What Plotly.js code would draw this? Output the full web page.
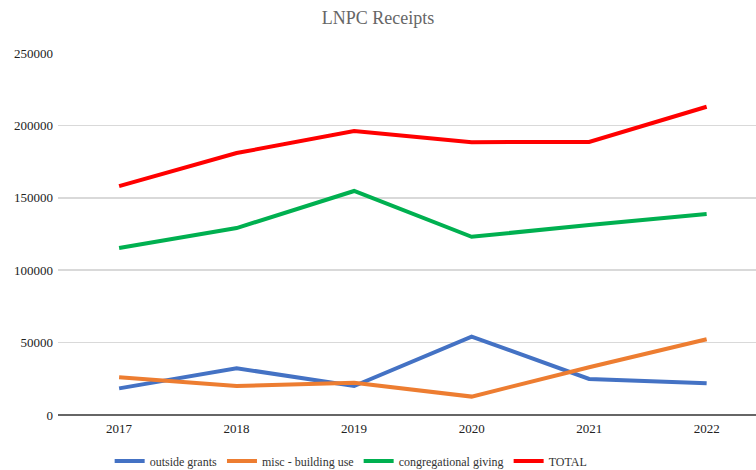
<!DOCTYPE html>
<html>
<head>
<meta charset="utf-8">
<script src="https://cdn.plot.ly/plotly-3.0.1.min.js"></script>
<style>html,body{margin:0;padding:0;background:#fff;}#chart{width:756px;height:470px;}</style>
</head>
<body>
<div id="chart"></div>
<script>
const years = ["2017", "2018", "2019", "2020", "2021", "2022"];
const outsideGrants = [18400, 32300, 20000, 54100, 24900, 21900];
const miscBuildingUse = [26000, 20000, 22300, 12700, 33000, 52300];
const congregationalGiving = [115300, 129100, 154700, 123100, 131200, 138800];
const total = [158100, 180900, 196100, 188400, 188600, 212900];
const seriesNames = ["outside grants", "misc - building use", "congregational giving", "TOTAL"];
const seriesColors = ["#4472C4", "#ED7D31", "#00B050", "#FF0000"];
const yTicks = [0, 50000, 100000, 150000, 200000, 250000];

const allSeries = [outsideGrants, miscBuildingUse, congregationalGiving, total];
const traces = allSeries.map((vals, i) => ({
  x: years,
  y: vals,
  name: seriesNames[i],
  type: "scatter",
  mode: "lines",
  line: {color: seriesColors[i], width: 4}
}));

const layout = {
  width: 756,
  height: 470,
  margin: {l: 58, r: 0, t: 53, b: 55, autoexpand: false},
  paper_bgcolor: "#fff",
  plot_bgcolor: "#fff",
  font: {family: "Liberation Serif, serif", size: 13, color: "#222"},
  title: {text: "LNPC Receipts", x: 0.5, xanchor: "center", y: 0.962, yanchor: "middle",
          font: {family: "Liberation Serif, serif", size: 18, color: "#666"}},
  xaxis: {
    type: "category",
    range: [-0.52, 5.42],
    showgrid: false,
    showline: false,
    zeroline: false,
    ticks: "",
    ticklabelstandoff: 4,
    tickfont: {size: 13, color: "#222"}
  },
  yaxis: {
    range: [0, 250000],
    tickvals: yTicks,
    ticktext: yTicks.map(String),
    showgrid: true,
    gridcolor: "#d9d9d9",
    gridwidth: 1.5,
    zeroline: true,
    zerolinecolor: "#666",
    zerolinewidth: 2,
    showline: false,
    ticks: "",
    ticklabelstandoff: 4,
    tickfont: {size: 13, color: "#222"}
  },
  showlegend: true,
  legend: {
    orientation: "h",
    x: 0.42, xanchor: "center",
    yref: "container",
    y: 0.019, yanchor: "middle",
    font: {size: 12, color: "#333"},
    itemwidth: 30
  }
};

Plotly.newPlot("chart", traces, layout, {displayModeBar: false, staticPlot: true});
</script>
</body>
</html>
